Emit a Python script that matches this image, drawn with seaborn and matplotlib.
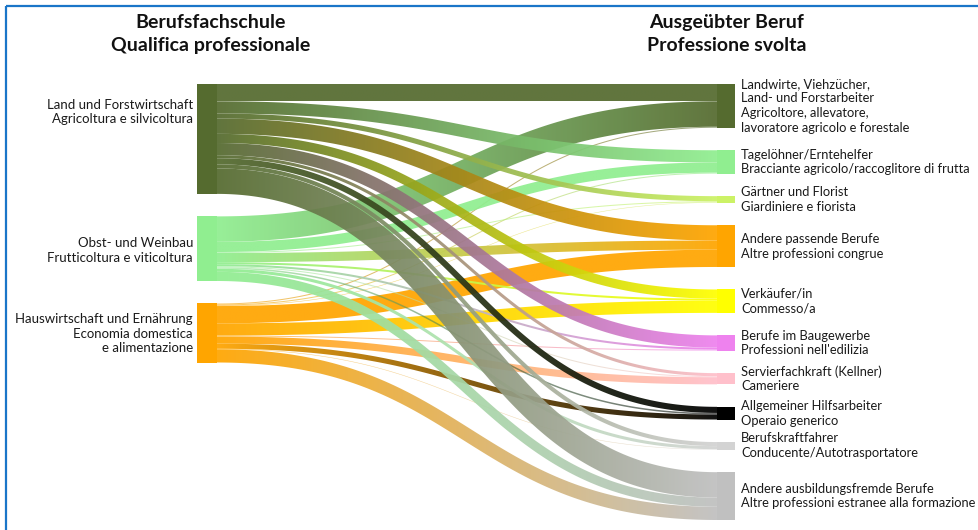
import numpy as np
import matplotlib
matplotlib.use("Agg")
import matplotlib.pyplot as plt
from matplotlib.path import Path
from matplotlib.patches import PathPatch, Rectangle
import seaborn as sns

# ---------------- data ----------------
source_labels = [
    "Land und Forstwirtschaft\nAgricoltura e silvicoltura",
    "Obst- und Weinbau\nFrutticoltura e viticoltura",
    "Hauswirtschaft und Ernährung\nEconomia domestica\ne alimentazione",
]
target_labels = [
    "Landwirte, Viehzücher,\nLand- und Forstarbeiter\nAgricoltore, allevatore,\nlavoratore agricolo e forestale",
    "Tagelöhner/Erntehelfer\nBracciante agricolo/raccoglitore di frutta",
    "Gärtner und Florist\nGiardiniere e fiorista",
    "Andere passende Berufe\nAltre professioni congrue",
    "Verkäufer/in\nCommesso/a",
    "Berufe im Baugewerbe\nProfessioni nell'edilizia",
    "Servierfachkraft (Kellner)\nCameriere",
    "Allgemeiner Hilfsarbeiter\nOperaio generico",
    "Berufskraftfahrer\nConducente/Autotrasportatore",
    "Andere ausbildungsfremde Berufe\nAltre professioni estranee alla formazione",
]
source_colors = ["#556B2F", "#90EE90", "#FFA500"]
target_colors = ["#556B2F", "#90EE90", "#CCF266", "#FFA500", "#FFFF00",
                 "#EE82EE", "#FFC0CB", "#000000", "#D3D3D3", "#C0C0C0"]

# flow values: source -> each target (in target order)
flows_land = [17, 12, 5, 15, 9, 12, 3, 6, 4, 25]
flows_obst = [25, 10, 1, 9, 2, 2, 1, 1.5, 3, 9]
flows_haus = [1, 1, 0.5, 17, 12, 1, 7, 5, 0.5, 13]
flows = [flows_land, flows_obst, flows_haus]

title_left = "Berufsfachschule\nQualifica professionale"
title_right = "Ausgeübter Beruf\nProfessione svolta"

# ---------------- style / layout ----------------
sns.set_theme(style="white")
plt.rcParams["font.family"] = ["Lato", "DejaVu Sans"]

W, H = 979, 530
top, bottom = 84, 520
pad = 22.5
xl0, xl1 = 197, 217      # left node
xr0, xr1 = 717, 735      # right node
link_alpha = 0.93
left_label_dy = [-27, 2, 1]

fig = plt.figure(figsize=(W / 100, H / 100), dpi=100)
ax = fig.add_axes([0, 0, 1, 1])
ax.set_xlim(0, W)
ax.set_ylim(H, 0)
ax.axis("off")

src_tot = [sum(f) for f in flows]
tgt_tot = [sum(flows[s][t] for s in range(len(flows))) for t in range(len(target_labels))]
ky = (bottom - top - pad * (len(target_labels) - 1)) / sum(tgt_tot)

# node positions
src_y = []
y = top
for v in src_tot:
    src_y.append(y)
    y += v * ky + pad
tgt_y = []
y = top
for v in tgt_tot:
    tgt_y.append(y)
    y += v * ky + pad

# link offsets
src_off = [[0] * len(target_labels) for _ in flows]
for s in range(len(flows)):
    acc = src_y[s]
    for t in range(len(target_labels)):
        src_off[s][t] = acc
        acc += flows[s][t] * ky
tgt_off = [[0] * len(target_labels) for _ in flows]
for t in range(len(target_labels)):
    acc = tgt_y[t]
    for s in range(len(flows)):
        tgt_off[s][t] = acc
        acc += flows[s][t] * ky


def link_patch(ya, yb, w):
    x0, x1 = xl1, xr0
    xm = (x0 + x1) / 2
    P = np.array([[x0, ya], [xm, ya], [xm, yb], [x1, yb]])
    tt = np.linspace(0, 1, 240)[:, None]
    B = ((1 - tt) ** 3) * P[0] + 3 * ((1 - tt) ** 2) * tt * P[1] + 3 * (1 - tt) * tt ** 2 * P[2] + tt ** 3 * P[3]
    D = 3 * ((1 - tt) ** 2) * (P[1] - P[0]) + 6 * (1 - tt) * tt * (P[2] - P[1]) + 3 * tt ** 2 * (P[3] - P[2])
    nrm = np.column_stack([-D[:, 1], D[:, 0]])
    nrm /= np.linalg.norm(nrm, axis=1)[:, None]
    up = B - nrm * w / 2
    lo = B + nrm * w / 2
    verts = np.vstack([up, lo[::-1], up[:1]])
    codes = [Path.MOVETO] + [Path.LINETO] * (len(verts) - 2) + [Path.CLOSEPOLY]
    return Path(verts, codes)


for s in [2, 1, 0]:
    for t in range(len(target_labels)):
        v = flows[s][t]
        if v <= 0:
            continue
        w = v * ky
        ya = src_off[s][t] + w / 2
        yb = tgt_off[s][t] + w / 2
        path = link_patch(ya, yb, w)
        patch = PathPatch(path, facecolor="none", edgecolor="none", transform=ax.transData)
        ax.add_patch(patch)
        cols = np.array(sns.blend_palette([source_colors[s], target_colors[t]], 128))
        a = link_alpha if v >= 2 else 0.6
        img = np.concatenate([cols, np.full((128, 1), a)], axis=1)[None, :, :]
        ymin = min(ya, yb) - w
        ymax = max(ya, yb) + w
        im = ax.imshow(img, extent=[xl1 - 1, xr0 + 1, ymax, ymin], aspect="auto",
                       interpolation="bilinear", zorder=2)
        im.set_clip_path(patch)

# nodes
for s in range(len(flows)):
    ax.add_patch(Rectangle((xl0, src_y[s]), xl1 - xl0, src_tot[s] * ky,
                           facecolor=source_colors[s], edgecolor="none", zorder=3))
    ax.text(xl0 - 4, src_y[s] + src_tot[s] * ky / 2 + left_label_dy[s], source_labels[s],
            ha="right", va="center", fontsize=9.5, color="#1a1a1a", linespacing=1.25, zorder=4)
for t in range(len(target_labels)):
    ax.add_patch(Rectangle((xr0, tgt_y[t]), xr1 - xr0, tgt_tot[t] * ky,
                           facecolor=target_colors[t], edgecolor="none", zorder=3))
    ax.text(xr1 + 6, tgt_y[t] + tgt_tot[t] * ky / 2, target_labels[t],
            ha="left", va="center", fontsize=9.3, color="#1a1a1a", linespacing=1.28, zorder=4)

# titles
ax.text(211, 34, title_left, ha="center", va="center", fontsize=14, fontweight="bold",
        color="#111111", linespacing=1.38)
ax.text(727, 34, title_right, ha="center", va="center", fontsize=14, fontweight="bold",
        color="#111111", linespacing=1.38)

# frame (left/top border)
ax.add_patch(Rectangle((6, 6), W + 20, H + 20, facecolor="none", edgecolor="#1a75c8",
                       linewidth=1.6, zorder=5))

fig.savefig("out.png", dpi=100)
